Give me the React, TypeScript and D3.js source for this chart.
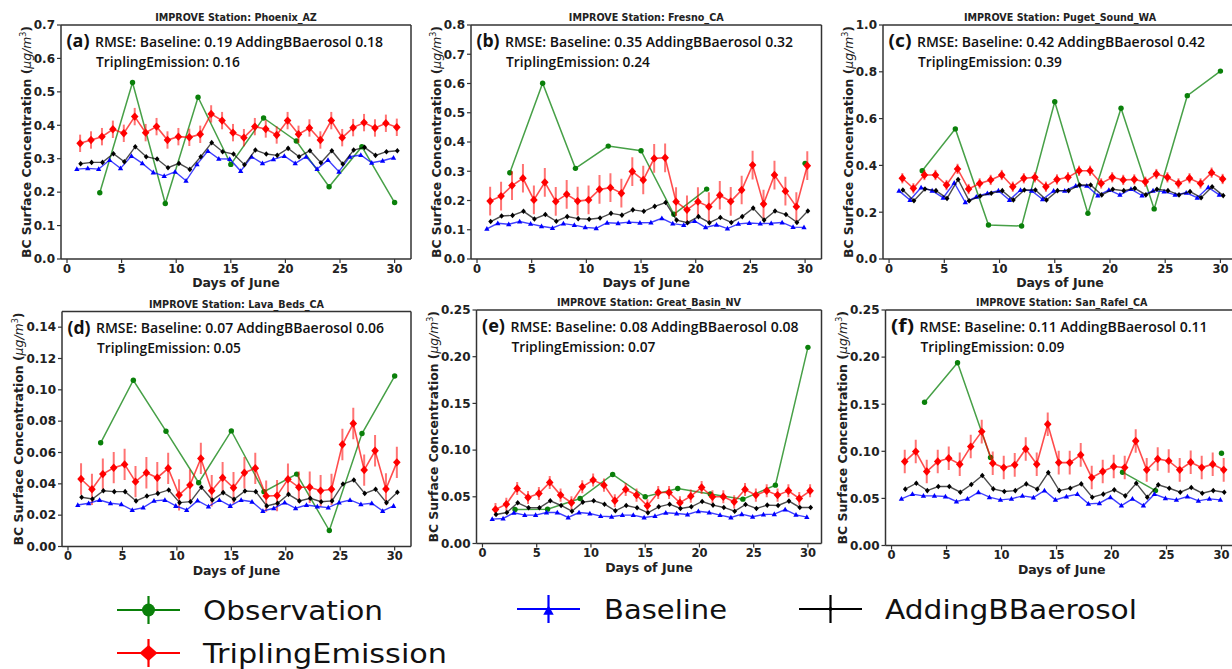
import React from 'react';
import * as d3 from 'd3';

// ---------- DATA ----------
const days = [1, 2, 3, 4, 5, 6, 7, 8, 9, 10, 11, 12, 13, 14, 15, 16, 17, 18, 19, 20, 21, 22, 23, 24, 25, 26, 27, 28, 29, 30];
const obsDays = [3, 6, 9, 12, 15, 18, 21, 24, 27, 30];
const xTicks = [0, 5, 10, 15, 20, 25, 30];

const stations = ['Phoenix_AZ', 'Fresno_CA', 'Puget_Sound_WA', 'Lava_Beds_CA', 'Great_Basin_NV', 'San_Rafel_CA'];
const panelTags = ['(a)', '(b)', '(c)', '(d)', '(e)', '(f)'];
const rmseBaseline = ['0.19', '0.35', '0.42', '0.07', '0.08', '0.11'];
const rmseBB = ['0.18', '0.32', '0.42', '0.06', '0.08', '0.11'];
const rmseTripling = ['0.16', '0.24', '0.39', '0.05', '0.07', '0.09'];
const yMax = [0.7, 0.8, 1.0, 0.15, 0.25, 0.25];
const yTickLists = [
  [0.0, 0.1, 0.2, 0.3, 0.4, 0.5, 0.6, 0.7],
  [0.0, 0.1, 0.2, 0.3, 0.4, 0.5, 0.6, 0.7, 0.8],
  [0.0, 0.2, 0.4, 0.6, 0.8, 1.0],
  [0.0, 0.02, 0.04, 0.06, 0.08, 0.10, 0.12, 0.14],
  [0.0, 0.05, 0.10, 0.15, 0.20, 0.25],
  [0.0, 0.05, 0.10, 0.15, 0.20, 0.25],
];
const yTickDecimals = [1, 1, 1, 2, 2, 2];
const triplingErr = [0.026, 0.049, 0.022, 0.01, 0.007, 0.0125];

// Observation (every 3 days; null = missing)
const obsPhoenix = [0.198, 0.528, 0.166, 0.484, 0.283, 0.422, 0.353, 0.216, 0.336, 0.169];
const obsFresno = [0.295, 0.601, 0.310, 0.386, 0.370, 0.153, 0.239, null, null, 0.327];
const obsPuget = [0.377, 0.556, 0.145, 0.141, 0.672, 0.195, 0.644, 0.214, 0.698, 0.803];
const obsLava = [0.0662, 0.1061, 0.0736, 0.0407, 0.0738, 0.0350, 0.0462, 0.0102, 0.0721, 0.1088];
const obsGreat = [0.0364, 0.0368, 0.0482, 0.0739, 0.0500, 0.0589, 0.0530, 0.0475, 0.0625, 0.2100];
const obsSan = [0.152, 0.194, 0.0934, null, null, null, 0.0778, 0.0583, null, 0.098];

// Baseline
const basePhoenix = [0.269, 0.271, 0.269, 0.296, 0.271, 0.308, 0.286, 0.259, 0.248, 0.261, 0.234, 0.283, 0.323, 0.300, 0.299, 0.263, 0.306, 0.286, 0.298, 0.308, 0.286, 0.306, 0.269, 0.296, 0.261, 0.306, 0.311, 0.288, 0.294, 0.303];
const baseFresno = [0.103, 0.122, 0.119, 0.128, 0.120, 0.112, 0.106, 0.121, 0.116, 0.108, 0.105, 0.124, 0.122, 0.126, 0.124, 0.125, 0.139, 0.121, 0.116, 0.130, 0.108, 0.117, 0.104, 0.120, 0.123, 0.121, 0.122, 0.125, 0.109, 0.108];
const basePuget = [0.291, 0.252, 0.305, 0.292, 0.262, 0.326, 0.242, 0.266, 0.281, 0.292, 0.252, 0.295, 0.292, 0.255, 0.291, 0.291, 0.313, 0.313, 0.271, 0.295, 0.274, 0.299, 0.271, 0.292, 0.288, 0.274, 0.283, 0.262, 0.306, 0.274];
const baseLava = [0.0265, 0.0276, 0.0297, 0.0276, 0.0269, 0.0233, 0.0248, 0.0291, 0.0297, 0.0259, 0.0233, 0.0293, 0.0255, 0.0297, 0.0259, 0.0297, 0.0286, 0.0227, 0.0244, 0.0280, 0.0244, 0.0265, 0.0255, 0.0248, 0.0280, 0.0297, 0.0269, 0.0276, 0.0227, 0.0259];
const baseGreat = [0.0261, 0.0268, 0.0329, 0.0304, 0.0304, 0.0332, 0.0332, 0.0279, 0.0332, 0.0321, 0.0293, 0.0286, 0.0304, 0.0304, 0.0279, 0.0293, 0.0329, 0.0321, 0.0311, 0.0346, 0.0332, 0.0304, 0.0279, 0.0314, 0.0286, 0.0311, 0.0314, 0.0364, 0.0307, 0.0282];
const baseSan = [0.0495, 0.0545, 0.0527, 0.0527, 0.0520, 0.0467, 0.0495, 0.0566, 0.0513, 0.0484, 0.0495, 0.0527, 0.0509, 0.0583, 0.0484, 0.0520, 0.0545, 0.0442, 0.0449, 0.0513, 0.0424, 0.0495, 0.0424, 0.0545, 0.0502, 0.0484, 0.0520, 0.0474, 0.0495, 0.0484];

// AddingBBaerosol
const bbPhoenix = [0.285, 0.289, 0.289, 0.315, 0.291, 0.336, 0.306, 0.299, 0.273, 0.286, 0.268, 0.306, 0.348, 0.321, 0.314, 0.282, 0.326, 0.314, 0.310, 0.331, 0.306, 0.324, 0.288, 0.324, 0.284, 0.326, 0.334, 0.310, 0.321, 0.324];
const bbFresno = [0.128, 0.147, 0.149, 0.163, 0.137, 0.152, 0.129, 0.145, 0.138, 0.136, 0.140, 0.156, 0.150, 0.168, 0.163, 0.180, 0.193, 0.133, 0.124, 0.145, 0.124, 0.142, 0.125, 0.145, 0.174, 0.133, 0.164, 0.152, 0.125, 0.164];
const bbPuget = [0.295, 0.249, 0.299, 0.292, 0.259, 0.340, 0.249, 0.269, 0.281, 0.292, 0.252, 0.295, 0.295, 0.252, 0.292, 0.292, 0.316, 0.316, 0.274, 0.298, 0.292, 0.302, 0.274, 0.298, 0.292, 0.274, 0.288, 0.262, 0.309, 0.271];
const bbLava = [0.0314, 0.0303, 0.0356, 0.0350, 0.0350, 0.0291, 0.0322, 0.0339, 0.0361, 0.0280, 0.0286, 0.0378, 0.0297, 0.0344, 0.0301, 0.0354, 0.0350, 0.0259, 0.0276, 0.0333, 0.0291, 0.0308, 0.0286, 0.0291, 0.0399, 0.0424, 0.0339, 0.0365, 0.0280, 0.0346];
const bbGreat = [0.0311, 0.0332, 0.0436, 0.0382, 0.0382, 0.0457, 0.0407, 0.0346, 0.0443, 0.0457, 0.0421, 0.0350, 0.0407, 0.0382, 0.0329, 0.0393, 0.0421, 0.0375, 0.0393, 0.0450, 0.0411, 0.0386, 0.0346, 0.0418, 0.0375, 0.0411, 0.0407, 0.0454, 0.0386, 0.0386];
const bbSan = [0.0598, 0.0661, 0.0583, 0.0626, 0.0626, 0.0566, 0.0647, 0.0743, 0.0601, 0.0573, 0.0583, 0.0654, 0.0598, 0.0774, 0.0583, 0.0608, 0.0654, 0.0513, 0.0545, 0.0591, 0.0527, 0.0661, 0.0513, 0.0644, 0.0608, 0.0566, 0.0615, 0.0555, 0.0583, 0.0566];

// TriplingEmission
const tripPhoenix = [0.346, 0.356, 0.366, 0.388, 0.376, 0.426, 0.378, 0.396, 0.356, 0.366, 0.364, 0.373, 0.434, 0.414, 0.378, 0.363, 0.396, 0.389, 0.371, 0.414, 0.373, 0.392, 0.356, 0.414, 0.363, 0.393, 0.408, 0.392, 0.406, 0.394];
const tripFresno = [0.198, 0.215, 0.251, 0.276, 0.202, 0.262, 0.197, 0.221, 0.198, 0.202, 0.238, 0.244, 0.225, 0.299, 0.270, 0.344, 0.346, 0.196, 0.168, 0.196, 0.179, 0.218, 0.197, 0.236, 0.321, 0.188, 0.287, 0.232, 0.179, 0.319];
const tripPuget = [0.345, 0.302, 0.359, 0.359, 0.316, 0.385, 0.299, 0.323, 0.338, 0.359, 0.309, 0.345, 0.349, 0.309, 0.340, 0.349, 0.377, 0.377, 0.323, 0.349, 0.338, 0.340, 0.330, 0.363, 0.349, 0.323, 0.345, 0.323, 0.369, 0.342];
const tripLava = [0.0431, 0.0365, 0.0462, 0.0503, 0.0524, 0.0414, 0.0471, 0.0439, 0.0499, 0.0329, 0.0392, 0.0562, 0.0356, 0.0439, 0.0375, 0.0471, 0.0499, 0.0322, 0.0325, 0.0429, 0.0378, 0.0378, 0.0356, 0.0365, 0.0651, 0.0785, 0.0488, 0.0611, 0.0367, 0.0537];
const tripGreat = [0.0364, 0.0421, 0.0589, 0.0493, 0.0536, 0.0654, 0.0518, 0.0436, 0.0607, 0.0679, 0.0625, 0.0457, 0.0579, 0.0518, 0.0404, 0.0546, 0.0546, 0.0436, 0.0507, 0.0600, 0.0500, 0.0500, 0.0446, 0.0579, 0.0518, 0.0564, 0.0518, 0.0564, 0.0482, 0.0564];
const tripSan = [0.0891, 0.0997, 0.0785, 0.0891, 0.0926, 0.0863, 0.1050, 0.1209, 0.0873, 0.0827, 0.0856, 0.1025, 0.0863, 0.1287, 0.0880, 0.0880, 0.0962, 0.0721, 0.0785, 0.0838, 0.0827, 0.1110, 0.0803, 0.0919, 0.0898, 0.0803, 0.0884, 0.0827, 0.0863, 0.0803];

const obsSeries = [obsPhoenix, obsFresno, obsPuget, obsLava, obsGreat, obsSan];
const baseSeries = [basePhoenix, baseFresno, basePuget, baseLava, baseGreat, baseSan];
const bbSeries = [bbPhoenix, bbFresno, bbPuget, bbLava, bbGreat, bbSan];
const tripSeries = [tripPhoenix, tripFresno, tripPuget, tripLava, tripGreat, tripSan];

const legendLabels = ['Observation', 'TriplingEmission', 'Baseline', 'AddingBBaerosol'];

// ---------- LAYOUT / STYLE ----------
const W = 1232;
const H = 669;
const layouts = [
  { left: 61, right: 411, top: 25, bottom: 259, xmin: -0.55, xmax: 31.5 },
  { left: 471, right: 821.5, top: 25, bottom: 259, xmin: -0.55, xmax: 31.5 },
  { left: 883, right: 1237, top: 25, bottom: 259, xmin: -0.55, xmax: 31.5 },
  { left: 62, right: 411, top: 311.5, bottom: 546.5, xmin: -0.55, xmax: 31.5 },
  { left: 476.5, right: 821.5, top: 310, bottom: 543.5, xmin: -0.55, xmax: 31.25 },
  { left: 885.5, right: 1238, top: 310, bottom: 545.5, xmin: -0.55, xmax: 31.5 },
];

const GREEN = '#0a800a';
const RED = '#ff0000';
const BLUE = '#0000ff';
const BLACK = '#000000';
const TICK_FONT = 'DejaVu Sans, sans-serif';
const ANNOT_FONT = 'Open Sans, Lato, sans-serif';

function diamondPath(cx: number, cy: number, hw: number, hh: number) {
  return `M${cx},${cy - hh}L${cx + hw},${cy}L${cx},${cy + hh}L${cx - hw},${cy}Z`;
}
function trianglePath(cx: number, cy: number, s: number) {
  return `M${cx},${cy - s}L${cx + s * 0.95},${cy + s * 0.7}L${cx - s * 0.95},${cy + s * 0.7}Z`;
}

type Pt = { x: number; v: number | null };

function Panel({ i }: { i: number }) {
  const L = layouts[i];
  const x = d3.scaleLinear().domain([L.xmin, L.xmax]).range([L.left, L.right]);
  const y = d3.scaleLinear().domain([0, yMax[i]]).range([L.bottom, L.top]);
  const line = d3
    .line<Pt>()
    .defined((d) => d.v !== null)
    .x((d) => x(d.x))
    .y((d) => y(d.v as number));

  const obs: Pt[] = obsDays.map((d, k) => ({ x: d, v: obsSeries[i][k] }));
  const base: Pt[] = days.map((d, k) => ({ x: d - 0.1, v: baseSeries[i][k] }));
  const bb: Pt[] = days.map((d, k) => ({ x: d + 0.25, v: bbSeries[i][k] }));
  const trip: Pt[] = days.map((d, k) => ({ x: d + 0.2, v: tripSeries[i][k] }));
  const err = triplingErr[i];
  const clipId = `clip${i}`;
  const cx = (L.left + L.right) / 2;
  const plotH = L.bottom - L.top;
  const ylabX = L.left - (yTickDecimals[i] === 2 ? 43.5 : 34.5) + 4.5;
  const fmt = d3.format(`.${yTickDecimals[i]}f`);
  const visRight = Math.min(L.right, W);

  return (
    <g>
      <defs>
        <clipPath id={clipId}>
          <rect x={L.left} y={L.top} width={L.right - L.left} height={plotH} />
        </clipPath>
      </defs>
      {/* title */}
      <text x={cx} y={L.top - 4} textAnchor="middle"
        fontFamily={TICK_FONT} fontWeight="bold" fontSize={9.6} fill="#222">
        IMPROVE Station: {stations[i]}
      </text>
      <g clipPath={`url(#${clipId})`}>
        {/* Observation */}
        <path d={line(obs) || ''} fill="none" stroke={GREEN} strokeOpacity={0.75} strokeWidth={1.5} />
        {obs.filter((d) => d.v !== null).map((d, k) => (
          <circle key={`o${k}`} cx={x(d.x)} cy={y(d.v as number)} r={2.7} fill={GREEN} />
        ))}
        {/* TriplingEmission */}
        <path d={line(trip) || ''} fill="none" stroke={RED} strokeOpacity={0.7} strokeWidth={1.6} />
        {trip.map((d, k) => (
          <line key={`te${k}`} x1={x(d.x)} x2={x(d.x)} y1={y((d.v as number) - err)} y2={y((d.v as number) + err)}
            stroke={RED} strokeOpacity={0.55} strokeWidth={2} />
        ))}
        {trip.map((d, k) => (
          <path key={`tm${k}`} d={diamondPath(x(d.x), y(d.v as number), 3.8, 4.2)} fill={RED} />
        ))}
        {/* Baseline */}
        <path d={line(base) || ''} fill="none" stroke={BLUE} strokeOpacity={0.75} strokeWidth={1.4} />
        {base.map((d, k) => (
          <path key={`bm${k}`} d={trianglePath(x(d.x), y(d.v as number), 2.8)} fill={BLUE} />
        ))}
        {/* AddingBBaerosol */}
        <path d={line(bb) || ''} fill="none" stroke={BLACK} strokeOpacity={0.7} strokeWidth={1.4} />
        {bb.map((d, k) => (
          <path key={`km${k}`} d={diamondPath(x(d.x), y(d.v as number), 2.4, 2.8)} fill={BLACK} />
        ))}
      </g>
      {/* frame */}
      <line x1={L.left} x2={visRight} y1={L.top} y2={L.top} stroke="#333" strokeWidth={1.5} />
      <line x1={L.left} x2={visRight} y1={L.bottom} y2={L.bottom} stroke="#333" strokeWidth={1.5} />
      <line x1={L.left} x2={L.left} y1={L.top} y2={L.bottom} stroke="#333" strokeWidth={1.5} />
      {L.right <= W && <line x1={L.right} x2={L.right} y1={L.top} y2={L.bottom} stroke="#333" strokeWidth={1.5} />}
      {/* x ticks */}
      {xTicks.map((t) => (
        <g key={`xt${t}`}>
          <line x1={x(t)} x2={x(t)} y1={L.bottom} y2={L.bottom + 4} stroke="#333" strokeWidth={1.2} />
          <text x={x(t)} y={L.bottom + 13.5} textAnchor="middle" fontFamily={TICK_FONT} fontWeight="bold"
            fontSize={11.5} fill="#222">
            {t}
          </text>
        </g>
      ))}
      {/* y ticks */}
      {yTickLists[i].map((t) => (
        <g key={`yt${t}`}>
          <line x1={L.left - 4} x2={L.left} y1={y(t)} y2={y(t)} stroke="#333" strokeWidth={1.2} />
          <text x={L.left - 6} y={y(t)} dy="0.36em" textAnchor="end" fontFamily={TICK_FONT} fontWeight="bold"
            fontSize={12} fill="#222">
            {fmt(t)}
          </text>
        </g>
      ))}
      {/* axis labels */}
      <text x={cx} y={L.bottom + 28} textAnchor="middle"
        fontFamily={TICK_FONT} fontWeight="bold" fontSize={12.5} fill="#222">
        Days of June
      </text>
      <text transform={`translate(${ylabX},${(L.top + L.bottom) / 2}) rotate(-90)`} textAnchor="middle"
        fontFamily={TICK_FONT} fontWeight="bold" fontSize={12.5} fill="#222" textLength={plotH - 2}
        lengthAdjust="spacingAndGlyphs">
        BC Surface Concentration (<tspan fontStyle="italic" fontWeight="normal">μg/m</tspan>
        <tspan fontWeight="normal" fontSize={8} dy={-5}>3</tspan>
        <tspan dy={5}>)</tspan>
      </text>
      {/* annotation */}
      <text x={L.left + 5.5} y={L.top + 22} fontFamily={ANNOT_FONT} fontWeight={700} fontSize={17} fill="#111"
        textLength={23} lengthAdjust="spacingAndGlyphs">
        {panelTags[i]}
      </text>
      <text x={L.left + 34} y={L.top + 21.5} fontFamily={ANNOT_FONT} fontWeight={600} fontSize={14.5} fill="#111"
        textLength={288} lengthAdjust="spacingAndGlyphs">
        {`RMSE: Baseline: ${rmseBaseline[i]} AddingBBaerosol ${rmseBB[i]}`}
      </text>
      <text x={L.left + 35} y={L.top + 41.5} fontFamily={ANNOT_FONT} fontWeight={600} fontSize={14.5} fill="#111"
        textLength={144} lengthAdjust="spacingAndGlyphs">
        {`TriplingEmission: ${rmseTripling[i]}`}
      </text>
    </g>
  );
}

function Legend() {
  const items = [
    { label: legendLabels[0], color: GREEN, x0: 117, y0: 610, tx: 203, tl: 180, kind: 'circle' },
    { label: legendLabels[1], color: RED, x0: 117, y0: 653, tx: 203, tl: 244, kind: 'diamond' },
    { label: legendLabels[2], color: BLUE, x0: 517, y0: 609, tx: 604, tl: 123, kind: 'triangle' },
    { label: legendLabels[3], color: BLACK, x0: 799, y0: 609, tx: 885, tl: 252, kind: 'plus' },
  ];
  return (
    <g>
      {items.map((it) => {
        const mx = it.x0 + 31.5;
        return (
          <g key={it.label}>
            <line x1={it.x0} x2={it.x0 + 63} y1={it.y0} y2={it.y0} stroke={it.color} strokeWidth={2.2} />
            <line x1={mx} x2={mx} y1={it.y0 - 14} y2={it.y0 + 14} stroke={it.color} strokeWidth={2.2} />
            {it.kind === 'circle' && <circle cx={mx} cy={it.y0} r={6.5} fill={it.color} />}
            {it.kind === 'diamond' && <path d={diamondPath(mx, it.y0, 9, 8)} fill={it.color} />}
            {it.kind === 'triangle' && <path d={trianglePath(mx, it.y0 + 2, 5.5)} fill={it.color} />}
            {it.kind === 'plus' && <path d={diamondPath(mx, it.y0, 2.5, 2.5)} fill={it.color} />}
            <text x={it.tx} y={it.y0 + 9.5} fontFamily="DejaVu Sans, sans-serif" fontSize={27} fill="#111"
              textLength={it.tl} lengthAdjust="spacingAndGlyphs">
              {it.label}
            </text>
          </g>
        );
      })}
    </g>
  );
}

export default function App() {
  return (
    <svg width={W} height={H} viewBox={`0 0 ${W} ${H}`}
      style={{ position: 'absolute', left: 0, top: 0, background: '#fff', display: 'block' }}>
      <rect x={0} y={0} width={W} height={H} fill="#fff" />
      {layouts.map((_, i) => (
        <Panel key={i} i={i} />
      ))}
      <Legend />
    </svg>
  );
}
